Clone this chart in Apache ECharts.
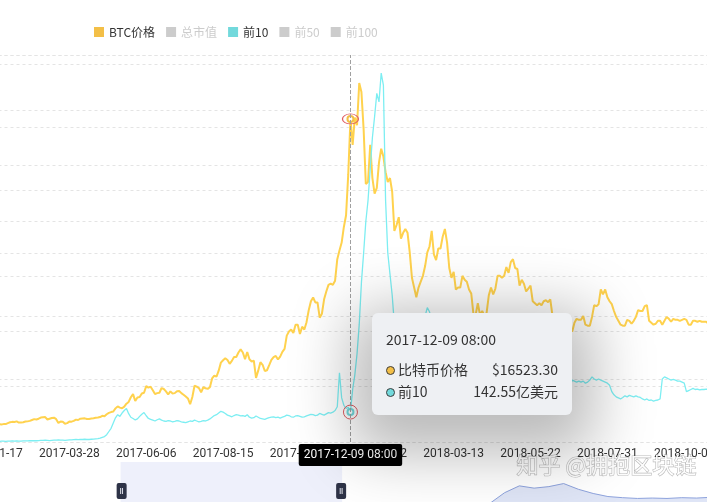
<!DOCTYPE html>
<html><head><meta charset="utf-8">
<script src="https://cdn.jsdelivr.net/npm/echarts@6/dist/echarts.min.js"></script>
<style>html,body{margin:0;padding:0;background:#fff;overflow:hidden}#chart{width:707px;height:502px}</style>
</head><body><div id="chart"></div>
<script>
// ---- data ----
const startDate = '2017-01-17';   // first category
const stepDays = 2;               // one point every 2 days
const timeLabel = '08:00';
const legendNames = ['BTC价格', '总市值', '前10', '前50', '前100'];
const markIndex = 163;            // 2017-12-09 08:00

// BTC price (USD)
const btcPrice = [
  // 2017-01
  900, 895, 920, 920, 895, 915, 915, 965,
  // 2017-02
  1010, 1030, 1025, 1055, 995, 1000, 1010, 1045, 1055, 1080, 1125, 1170, 1150, 1190,
  // 2017-03
  1250, 1265, 1275, 1150, 1190, 1230, 1245, 1170, 975, 1045, 1040, 935, 965, 1045, 1040,
  // 2017-04
  1080, 1145, 1125, 1190, 1200, 1210, 1175, 1180, 1200, 1215, 1240, 1250, 1275, 1340, 1320,
  // 2017-05
  1420, 1490, 1530, 1560, 1720, 1820, 1760, 1725, 1810, 1960, 2050, 2290, 2450, 2100, 2280, 2300,
  // 2017-06
  2480, 2520, 2860, 2780, 2830, 2650, 2450, 2500, 2520, 2760, 2710, 2590, 2430, 2590, 2480,
  // 2017-07
  2500, 2600, 2610, 2500, 2420, 2330, 2230, 1930, 2300, 2880, 2830, 2760, 2540, 2800, 2750,
  // 2017-08
  2720, 2800, 3250, 3400, 3340, 3650, 4060, 4180, 4280, 4190, 4000, 4150, 4350, 4350, 4580, 4740,
  // 2017-09
  4580, 4230, 4600, 4230, 4120, 4160, 3280, 3650, 4080, 3950, 3630, 3670, 3930, 4200, 4340,
  // 2017-10
  4400, 4220, 4370, 4610, 4760, 5440, 5650, 5750, 5580, 6000, 6000, 5520, 5900, 5750, 6130,
  // 2017-11
  6740, 7200, 7390, 7140, 7140, 6360, 6560, 7300, 7700, 8040, 8100, 8040, 8250, 9350, 9800,
  // 2017-12
  10200, 11000, 11600, 13700, 16523.3, 15200, 16600, 16200, 18365, 17900, 16000, 13200, 13300, 15200, 13500, 12700,
  // 2018-01
  13000, 14300, 15000, 14600, 13800, 13300, 13500, 12800, 10800, 11100, 11500, 10400, 10700, 10900, 10700,
  // 2018-02
  9700, 8400, 7900, 7400, 7900, 8200, 8500, 9000, 9700, 10000, 10800, 9600, 9300, 9900,
  // 2018-03
  9900, 10500, 10900, 10200, 8900, 8400, 8700, 7800, 7900, 7900, 8500, 8300, 8200, 7800, 7600, 6550,
  // 2018-04
  6500, 7100, 6500, 6700, 6450, 6600, 7500, 7900, 7550, 7850, 8500, 8500, 8400, 8500, 8950,
  // 2018-05
  8650, 9200, 9350, 8900, 8850, 8000, 8300, 8100, 7700, 7850, 8000, 7200, 7100, 7000, 7100,
  // 2018-06
  7000, 7200, 7250, 7150, 7300, 6450, 6250, 6300, 6200, 6400, 6400, 5800, 5850, 5800, 5650,
  // 2018-07
  6100, 6300, 6250, 6250, 6450, 6000, 5950, 5950, 6400, 7000, 6950, 7050, 7800, 7550, 7800, 7400,
  // 2018-08
  7200, 7050, 6700, 6400, 6200, 6000, 5950, 5950, 6250, 6200, 6050, 6200, 6400, 6750, 6700,
  // 2018-09
  6700, 6950, 7000, 6200, 6100, 6000, 6050, 6200, 6200, 6000, 6200, 6400, 6300, 6150, 6300,
  // 2018-10
  6250, 6250, 6200, 6250, 6300, 6250, 6000, 6000, 6200, 6200, 6150, 6200, 6150, 6150, 6150, 6050
];

// 前10 (亿美元)
const top10Value = [
  // 2017-01
  3, 3, 4, 3, 4, 4, 3, 4,
  // 2017-02
  4, 5, 4, 5, 4, 4, 5, 5, 5, 6, 6, 7, 6, 7,
  // 2017-03
  8, 8, 9, 8, 7, 8, 9, 9, 10, 9, 9, 8, 9, 10, 10,
  // 2017-04
  11, 12, 11, 12, 12, 13, 12, 12, 13, 14, 15, 16, 18, 22, 26,
  // 2017-05
  35, 50, 65, 90, 115, 130, 122, 138, 150, 160, 135, 118, 112, 105, 110, 122,
  // 2017-06
  132, 140, 125, 112, 108, 104, 100, 106, 110, 104, 100, 98, 102, 100, 96,
  // 2017-07
  98, 102, 100, 96, 94, 92, 96, 100, 98, 104, 100, 96, 98, 102, 100,
  // 2017-08
  104, 110, 118, 126, 130, 138, 146, 142, 136, 128, 124, 120, 126, 130, 128, 124,
  // 2017-09
  126, 122, 130, 118, 114, 116, 124, 118, 112, 110, 108, 112, 116, 118, 120,
  // 2017-10
  116, 118, 114, 118, 122, 128, 126, 120, 118, 124, 126, 122, 118, 120, 124,
  // 2017-11
  128, 132, 130, 126, 128, 136, 132, 128, 134, 140, 138, 142, 150, 168, 330,
  // 2017-12
  210, 175, 160, 165, 142.55, 250, 320, 420, 560, 760, 900, 1050, 1150, 1300, 1450, 1550,
  // 2018-01
  1660, 1620, 1757, 1700, 1150, 900, 800, 700, 560, 540, 580, 550, 500, 420, 350,
  // 2018-02
  380, 500, 560, 600, 560, 520, 560, 600, 640, 620, 580, 540, 500, 500,
  // 2018-03
  480, 470, 480, 460, 430, 420, 430, 400, 380, 370, 390, 380, 370, 350, 340, 320,
  // 2018-04
  310, 320, 305, 300, 295, 300, 330, 340, 330, 335, 360, 365, 355, 360, 370,
  // 2018-05
  365, 375, 380, 365, 360, 330, 335, 330, 315, 320, 320, 300, 300, 295, 300,
  // 2018-06
  300, 305, 305, 300, 305, 285, 275, 275, 270, 275, 280, 265, 268, 265, 295,
  // 2018-07
  290, 285, 290, 285, 290, 280, 285, 295, 310, 300, 295, 300, 295, 290, 285, 280,
  // 2018-08
  270, 240, 225, 215, 210, 205, 212, 220, 215, 222, 218, 215, 220, 215, 212,
  // 2018-09
  205, 200, 205, 198, 200, 195, 198, 200, 205, 300, 310, 305, 300, 295, 298,
  // 2018-10
  295, 290, 290, 285, 280, 240, 245, 250, 255, 250, 252, 248, 250, 250, 252, 250
];

// hidden legend series (deselected in the reference)
const totalCapValue = [];
const top50Value = [];
const top100Value = [];

// overview series drawn in the slider's data shadow
const sliderShadow = [
  5, 6, 8, 7, 9, 10, 8, 9, 11, 12, 10, 9, 11, 13, 12, 10, 9, 8, 10, 12,
  14, 13, 11, 12, 14, 15, 13, 12, 14, 15, 16, 17, 16, 20, 48, 66, 60, 64, 72, 57,
  46, 38, 35, 33, 34, 33, 35, 34, 36, 45, 55, 68, 82, 95, 100, 88, 75, 66, 60, 55, 52
];
const sliderStartIdx = 8;
const sliderEndIdx = 23;

// ---- build ----
const t0 = Date.parse(startDate + 'T00:00:00Z');
const categories = btcPrice.map((_, i) =>
  new Date(t0 + i * stepDays * 86400000).toISOString().slice(0, 10) + ' ' + timeLabel);
const sliderCats = sliderShadow.map((_, i) => 'p' + i);

const ORANGE = '#f3bf47';
const CYAN = '#72d9dc';

function dot(c) {
  return '<span style="display:inline-block;width:7px;height:7px;border-radius:50%;border:1.5px solid #3d3d3d;background:' + c + ';margin-right:3px;vertical-align:0px"></span>';
}
function tipFormatter(params) {
  const b = params.find(p => p.seriesName === 'BTC价格');
  const t = params.find(p => p.seriesName === '前10');
  let h = '<div style="font-family:\'Noto Sans CJK SC\',sans-serif;color:#333;font-size:14px;line-height:20px;width:172px">';
  h += '<div style="margin-bottom:9px">' + params[0].axisValue + '</div>';
  if (b) h += '<div style="display:flex;justify-content:space-between;line-height:22px"><span>' + dot(ORANGE) + '比特币价格</span><span>$' + Number(b.value).toFixed(2) + '</span></div>';
  if (t) h += '<div style="display:flex;justify-content:space-between;line-height:22px"><span>' + dot(CYAN) + '前10</span><span>' + Number(t.value).toFixed(2) + '亿美元</span></div>';
  h += '</div>';
  return h;
}

const splitStyle = { show: true, lineStyle: { color: '#e4e4e4', type: [3, 3], width: 1 } };

const chart = echarts.init(document.getElementById('chart'), null, { renderer: 'canvas' });
chart.setOption({
  animation: false,
  backgroundColor: '#fff',
  legend: {
    data: legendNames, top: 21, left: 89, itemWidth: 10, itemHeight: 10, itemGap: 11, icon: 'rect',
    selected: { '总市值': false, '前50': false, '前100': false },
    inactiveColor: '#cccccc',
    textStyle: { fontSize: 12, color: '#333', fontFamily: 'Noto Sans CJK SC' }
  },
  grid: [
    { left: -7.5, right: -1.4, top: 55, bottom: 60, outerBoundsMode: 'none', containLabel: false },
    { left: 0, width: 300, top: 700, height: 40, outerBoundsMode: 'none' }
  ],
  tooltip: {
    trigger: 'axis', alwaysShowContent: true, transitionDuration: 0,
    position: [372, 313],
    backgroundColor: '#eef0f3', borderWidth: 0, padding: [16, 14, 13, 14],
    extraCssText: 'box-shadow:0 18px 60px 22px rgba(0,0,0,0.27);border-radius:6px;',
    axisPointer: {
      type: 'line',
      lineStyle: { color: '#a0a0a0', type: 'dashed', width: 1 },
      label: { show: true, backgroundColor: '#000', color: '#fff', padding: [5, 5, 5, 5], fontSize: 12, fontFamily: 'Roboto', margin: 2, borderRadius: 2 }
    },
    formatter: tipFormatter
  },
  xAxis: [
    {
      type: 'category', gridIndex: 0, data: categories, boundaryGap: false,
      axisLine: { show: false }, axisTick: { show: false }, splitLine: { show: false },
      axisLabel: { interval: 34, margin: 6, color: '#333', fontSize: 12, fontFamily: 'Roboto', formatter: v => v.slice(0, 10) }
    },
    { type: 'category', gridIndex: 1, data: sliderCats, show: false, boundaryGap: false }
  ],
  yAxis: [
    { type: 'value', gridIndex: 0, min: 0, max: 19796, interval: 2828, axisLabel: { show: false }, axisLine: { show: false }, axisTick: { show: false }, splitLine: splitStyle },
    { type: 'value', gridIndex: 0, position: 'right', min: 0, max: 1843, interval: 300, axisLabel: { show: false }, axisLine: { show: false }, axisTick: { show: false }, splitLine: splitStyle },
    { type: 'value', gridIndex: 1, show: false }
  ],
  dataZoom: [{
    type: 'slider', xAxisIndex: 1, filterMode: 'filter',
    left: 0, width: 886, top: 462, height: 58,
    start: 100 * sliderStartIdx / (sliderShadow.length - 1),
    end: 100 * sliderEndIdx / (sliderShadow.length - 1),
    backgroundColor: 'rgba(0,0,0,0)', borderColor: 'rgba(0,0,0,0)',
    fillerColor: 'rgba(120,140,225,0.13)',
    showDetail: false, brushSelect: false, moveHandleSize: 0,
    moveHandleStyle: { opacity: 0 },
    handleIcon: 'path://M2,0 L8,0 Q10,0 10,2 L10,14 Q10,16 8,16 L2,16 Q0,16 0,14 L0,2 Q0,0 2,0 Z M3.6,5 L3.6,11 L4.5,11 L4.5,5 Z M5.5,5 L5.5,11 L6.4,11 L6.4,5 Z',
    handleSize: 16,
    handleStyle: { color: '#2e3347', borderColor: '#2e3347', borderWidth: 0 },
    emphasis: { handleStyle: { color: '#2e3347', borderColor: '#2e3347' }, moveHandleStyle: { opacity: 0 } },
    dataBackground: { lineStyle: { color: '#8da2dc', width: 1, opacity: 1 }, areaStyle: { color: '#dfe5f6', opacity: 1 } },
    selectedDataBackground: { lineStyle: { color: '#8da2dc', width: 1, opacity: 1 }, areaStyle: { color: '#dfe5f6', opacity: 1 } },
    textStyle: { color: 'rgba(0,0,0,0)' }
  }],
  graphic: [{
    type: 'text', left: 516, top: 453, z: 200, silent: true,
    style: { text: '知乎 @拥抱区块链', fontSize: 22, fontFamily: 'Noto Sans CJK SC', fill: 'rgba(255,255,255,0.97)', stroke: 'rgba(80,80,80,0.4)', lineWidth: 1.2 }
  }],
  series: [
    {
      name: 'BTC价格', type: 'line', xAxisIndex: 0, yAxisIndex: 0, data: btcPrice,
      color: ORANGE, showSymbol: false, symbol: 'emptyCircle', symbolSize: 4,
      lineStyle: { width: 2, color: ORANGE }, z: 2,
      markPoint: {
        symbol: 'circle', symbolSize: [16, 10], silent: true, animation: false,
        label: { show: false },
        itemStyle: { color: 'rgba(0,0,0,0)', borderColor: '#e05d62', borderWidth: 1 },
        data: [{ coord: [categories[markIndex], btcPrice[markIndex]] }]
      }
    },
    { name: '总市值', type: 'line', yAxisIndex: 1, data: totalCapValue, color: '#9aa7c7', showSymbol: false },
    {
      name: '前10', type: 'line', xAxisIndex: 0, yAxisIndex: 1, data: top10Value,
      color: CYAN, showSymbol: false, symbol: 'emptyCircle', symbolSize: 4,
      lineStyle: { width: 1.3, color: CYAN }, z: 3,
      markPoint: {
        symbol: 'circle', symbolSize: 14, silent: true, animation: false,
        label: { show: false },
        itemStyle: { color: 'rgba(0,0,0,0)', borderColor: '#e05d62', borderWidth: 1 },
        data: [{ coord: [categories[markIndex], top10Value[markIndex]] }]
      }
    },
    { name: '前50', type: 'line', yAxisIndex: 1, data: top50Value, color: '#a0d0a0', showSymbol: false },
    { name: '前100', type: 'line', yAxisIndex: 1, data: top100Value, color: '#d0a0d0', showSymbol: false },
    {
      name: 'overview', type: 'line', xAxisIndex: 1, yAxisIndex: 2, data: sliderShadow,
      showSymbol: false, silent: true, lineStyle: { opacity: 0 }, tooltip: { show: false }
    }
  ]
});
function showTip() {
  chart.dispatchAction({ type: 'showTip', seriesIndex: 0, dataIndex: markIndex });
}
showTip();
setTimeout(showTip, 60);
</script>
</body></html>
